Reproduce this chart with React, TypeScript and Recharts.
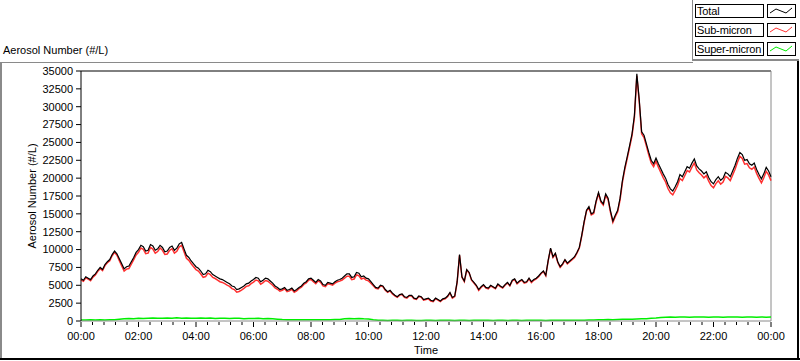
import { LineChart, Line, XAxis, YAxis, ReferenceLine, Label } from 'recharts';

// total and sub-micron: one sample every 5 minutes, 00:00 .. 24:00
const STEP_FINE = 5;
// super-micron: one sample every 10 minutes
const STEP_COARSE = 10;

const totalCounts = [
  5900, 5700, 6200, 6000, 5800, 6300, 6600, 7100, 7500, 7200, 7900, 8300,
  8600, 9300, 9800, 9400, 8700, 8000, 7300, 7600, 7700, 8300, 8900, 9600,
  10000, 10600, 10400, 9800, 9900, 10700, 10500, 9900, 10100, 10600, 10300, 9700,
  9800, 10300, 10500, 9900, 10200, 10800, 11000, 10100, 9200, 8900, 8400, 8000,
  7600, 7400, 7000, 6500, 6600, 7100, 6900, 6500, 6300, 6100, 5900, 5800,
  5600, 5400, 5200, 4900, 4800, 4400, 4500, 4700, 4900, 5200, 5300, 5600,
  5800, 6100, 6000, 5500, 5700, 6000, 5900, 5600, 5300, 4900, 4700, 4400,
  4500, 4700, 4300, 4400, 4600, 4200, 4400, 4700, 4900, 5300, 5500, 5900,
  6000, 5700, 5400, 5800, 5600, 5100, 5000, 5400, 5300, 5200, 5500, 5700,
  5800, 6000, 6300, 6600, 6600, 6100, 6200, 6800, 6700, 6200, 6300, 6000,
  5900, 5500, 5100, 4700, 4600, 5000, 4900, 4400, 4100, 4300, 3900, 3600,
  3400, 3700, 3800, 3400, 3300, 3600, 3600, 3200, 3100, 3500, 3400, 3000,
  3100, 3200, 2900, 2800, 3200, 3000, 2800, 3100, 3200, 3500, 4000, 3300,
  3500, 5500, 9300, 6200, 5600, 7200, 6800, 5800, 5400, 5000, 4400, 4800,
  5100, 4700, 4600, 5000, 4800, 4600, 5200, 4900, 4700, 5100, 5400, 5000,
  5700, 5900, 5300, 5600, 5800, 5400, 5500, 6000, 5500, 5800, 6000, 6300,
  6700, 7000, 6400, 8500, 10200, 9000, 9500, 8300, 7600, 8000, 8600, 8100,
  8400, 8700, 9000, 9600, 10300, 12000, 13900, 15500, 16000, 15000, 15200, 16800,
  18000, 16800, 16400, 17800, 17200, 15400, 14000, 14800, 15500, 17200, 19700, 21500,
  23000, 24600, 26200, 28800, 34600, 31000, 26500, 26000, 24800, 23600, 22500, 22000,
  22800, 22000, 21300, 20600, 20000, 19100, 18500, 18200, 18800, 19500, 20500, 20200,
  20900, 21600, 21400, 22100, 22700, 21700, 21300, 21000, 20600, 20900, 20100, 19500,
  19200, 19800, 20200, 19700, 20000, 20800, 20600, 20200, 21000, 21800, 22800, 23600,
  23300, 22500, 22600, 22000, 21800, 22100, 21200, 20500, 19900, 20600, 21500, 21000,
  20200,
];

const subMicron = [
  5750, 5550, 6050, 5850, 5640, 6150, 6450, 6950, 7330, 7050, 7750, 8150,
  8440, 9130, 9620, 9200, 8450, 7720, 7000, 7270, 7350, 7970, 8580, 9250,
  9620, 10220, 10050, 9420, 9500, 10300, 10080, 9500, 9720, 10220, 9900, 9310,
  9380, 9900, 10120, 9500, 9750, 10390, 10600, 9700, 8770, 8490, 8010, 7600,
  7200, 7000, 6580, 6100, 6220, 6700, 6490, 6100, 5950, 5730, 5500, 5400,
  5220, 5030, 4850, 4530, 4400, 4030, 4130, 4330, 4570, 4850, 4940, 5240,
  5450, 5740, 5620, 5150, 5380, 5670, 5560, 5280, 5000, 4620, 4440, 4170,
  4300, 4510, 4120, 4220, 4430, 4020, 4210, 4520, 4720, 5120, 5330, 5720,
  5820, 5520, 5230, 5620, 5410, 4920, 4820, 5220, 5130, 5020, 5300, 5490,
  5580, 5740, 6000, 6280, 6260, 5780, 5880, 6460, 6340, 5880, 6000, 5720,
  5620, 5280, 4920, 4560, 4500, 4910, 4810, 4320, 4020, 4210, 3800, 3510,
  3310, 3620, 3720, 3310, 3200, 3510, 3510, 3110, 3020, 3420, 3330, 2920,
  3010, 3100, 2800, 2710, 3120, 2910, 2710, 3010, 3090, 3400, 3900, 3200,
  3420, 5410, 9210, 6110, 5500, 7110, 6720, 5710, 5310, 4910, 4290, 4700,
  5000, 4610, 4510, 4910, 4720, 4510, 5100, 4810, 4610, 5010, 5320, 4910,
  5610, 5800, 5200, 5510, 5720, 5310, 5410, 5900, 5390, 5700, 5900, 6200,
  6610, 6920, 6320, 8410, 10100, 8890, 9380, 8190, 7500, 7900, 8510, 8010,
  8300, 8590, 8880, 9500, 10210, 11890, 13790, 15380, 15870, 14860, 15050, 16640,
  17840, 16630, 16220, 17600, 17000, 15210, 13810, 14600, 15280, 16960, 19450, 21250,
  22760, 24350, 25940, 28520, 34320, 30700, 26200, 25680, 24480, 23250, 22120, 21610,
  22380, 21540, 20800, 20080, 19460, 18550, 17940, 17660, 18270, 18960, 19950, 19650,
  20340, 21050, 20860, 21550, 22130, 21150, 20750, 20450, 20040, 20350, 19570, 18960,
  18650, 19240, 19640, 19150, 19460, 20250, 20030, 19650, 20450, 21250, 22240, 23050,
  22760, 21950, 22040, 21450, 21250, 21560, 20670, 19960, 19340, 20050, 20960, 20460,
  19650,
];

const superMicron = [
  150, 150, 160, 150, 170, 150,
  160, 180, 250, 300, 350, 320,
  380, 350, 400, 420, 380, 400,
  420, 380, 450, 400, 430, 390,
  400, 420, 380, 410, 350, 400,
  380, 350, 400, 370, 330, 360,
  350, 380, 320, 340, 300, 260,
  200, 180, 170, 190, 180, 170,
  180, 170, 190, 180, 170, 200,
  220, 300, 340, 320, 360, 300,
  280, 180, 100, 90, 80, 100,
  90, 80, 100, 90, 80, 70,
  90, 100, 80, 90, 110, 100,
  80, 90, 100, 80, 90, 110,
  100, 90, 80, 100, 90, 80,
  90, 100, 80, 90, 110, 100,
  90, 80, 100, 120, 100, 90,
  100, 120, 90, 110, 130, 150,
  160, 180, 200, 190, 220, 250,
  240, 260, 280, 300, 320, 380,
  420, 500, 540, 560, 530, 550,
  560, 540, 570, 550, 560, 530,
  550, 560, 540, 570, 550, 560,
  540, 560, 550, 530, 560, 540,
  550,
];

const yTicks = [0, 2500, 5000, 7500, 10000, 12500, 15000, 17500, 20000, 22500, 25000, 27500, 30000, 32500, 35000];
const xMajorTicks = [0, 120, 240, 360, 480, 600, 720, 840, 960, 1080, 1200, 1320, 1440];
const xMajorLabels = ['00:00', '02:00', '04:00', '06:00', '08:00', '10:00', '12:00', '14:00', '16:00', '18:00', '20:00', '22:00', '00:00'];
const xMinorTicks = Array.from({ length: 61 }, (_, i) => i * 24);

const seriesInfo = [
  { name: 'Total', color: '#000000' },
  { name: 'Sub-micron', color: '#ff3030' },
  { name: 'Super-micron', color: '#00ee00' },
];

const fineData = totalCounts.map((v, i) => ({ t: i * STEP_FINE, total: v, sub: subMicron[i] }));
const coarseData = superMicron.map((v, i) => ({ t: i * STEP_COARSE, sup: v }));

const FONT = '"Liberation Sans", Arial, sans-serif';

const TimeTick = (props: any) => {
  const { x, y, payload } = props;
  const idx = xMajorTicks.indexOf(payload.value);
  const major = idx >= 0;
  return (
    <g>
      <line x1={x} x2={x} y1={y + 1} y2={y + (major ? 6 : 4)} stroke="#000" />
      {major && (
        <text x={x} y={y + 19} textAnchor="middle" fontSize={11} fontFamily={FONT} fill="#000">
          {xMajorLabels[idx]}
        </text>
      )}
    </g>
  );
};

const LegendBoxes = () => (
  <div style={{ position: 'absolute', left: 693, top: 0, width: 105, height: 60, fontFamily: FONT, fontSize: 11 }}>
    {seriesInfo.map((s, i) => (
      <div key={s.name} style={{ position: 'absolute', left: 2, top: 4 + i * 19, height: 14 }}>
        <div
          style={{
            position: 'absolute', left: 0, top: 0, width: 66, height: 12,
            border: '1px solid #000', background: '#fff', lineHeight: '13px', paddingLeft: 1,
            whiteSpace: 'nowrap', overflow: 'hidden', letterSpacing: -0.15,
          }}
        >
          {s.name}
        </div>
        <svg style={{ position: 'absolute', left: 72, top: 0 }} width={29} height={14}>
          <rect x={0.5} y={0.5} width={28} height={13} fill="#fff" stroke="#000" />
          <polyline points="3,9 9,5 14,7 19,9 25,4" fill="none" stroke={s.color} />
        </svg>
      </div>
    ))}
  </div>
);

export default function App() {
  return (
    <div style={{ position: 'relative', width: 800, height: 361, background: '#fff', fontFamily: FONT }}>
      <style>{'body{margin:0}'}</style>
      {/* outer sunken frame */}
      <div style={{ position: 'absolute', left: 0, top: 62, width: 693, height: 0, borderTop: '1px solid #8a8a8a' }} />
      <div style={{ position: 'absolute', left: 0, top: 62, width: 0, height: 298, borderLeft: '2px solid #8a8a8a' }} />
      <div style={{ position: 'absolute', left: 0, top: 358, width: 800, height: 0, borderTop: '2px solid #000' }} />
      <div style={{ position: 'absolute', left: 797, top: 60, width: 0, height: 300, borderLeft: '2px solid #000' }} />
      <div style={{ position: 'absolute', left: 692, top: 0, width: 106, height: 59, borderLeft: '1px solid #8a8a8a', borderBottom: '2px solid #8a8a8a' }} />
      <div style={{ position: 'absolute', left: 3, top: 44, fontSize: 11, color: '#000' }}>Aerosol Number (#/L)</div>
      <LegendBoxes />

      <LineChart width={800} height={361} margin={{ top: 71, right: 29, bottom: 0, left: 0 }}>
        <XAxis
          dataKey="t"
          type="number"
          domain={[0, 1440]}
          ticks={xMinorTicks}
          interval={0}
          tick={<TimeTick />}
          tickLine={false}
          tickSize={0}
          tickMargin={0}
          height={40}
          axisLine={{ stroke: '#8a8a8a' }}
          allowDuplicatedCategory={false}
        >
          <Label value="Time" position="insideBottom" offset={7} fontSize={11} fontFamily={FONT} fill="#000" />
        </XAxis>
        <YAxis
          type="number"
          domain={[0, 35000]}
          ticks={yTicks}
          interval={0}
          width={81}
          tickSize={5}
          tickMargin={3}
          axisLine={{ stroke: '#000' }}
          tickLine={{ stroke: '#000' }}
          tick={{ fontSize: 11, fontFamily: FONT, fill: '#000' }}
        >
          <Label
            value="Aerosol Number (#/L)"
            angle={-90}
            position="insideLeft"
            offset={32}
            fontSize={11}
            fontFamily={FONT}
            fill="#000"
            style={{ textAnchor: 'middle' }}
          />
        </YAxis>
        <ReferenceLine y={35000} stroke="#000" ifOverflow="extendDomain" />
        <ReferenceLine x={1440} stroke="#8a8a8a" />
        <Line data={coarseData} dataKey="sup" name="Super-micron" stroke="#00ee00" strokeWidth={1.5} dot={false} isAnimationActive={false} />
        <Line data={fineData} dataKey="sub" name="Sub-micron" stroke="#ff3030" strokeWidth={1.5} dot={false} isAnimationActive={false} />
        <Line data={fineData} dataKey="total" name="Total" stroke="#000000" strokeWidth={1.2} dot={false} isAnimationActive={false} />
      </LineChart>
    </div>
  );
}
